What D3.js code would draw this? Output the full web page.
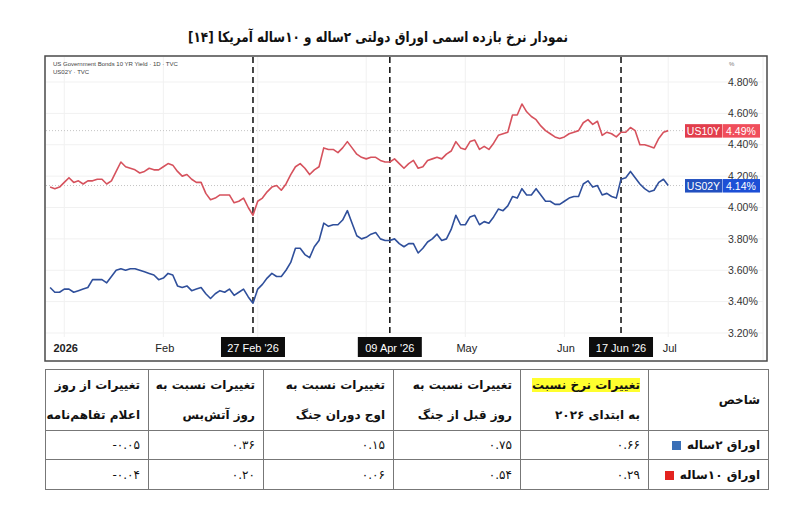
<!DOCTYPE html>
<html>
<head>
<meta charset="utf-8">
<script src="https://cdn.jsdelivr.net/npm/d3@7"></script>
<style>
body { margin: 0; background: #fff; width: 795px; height: 513px; overflow: hidden; position: relative; }
svg { position: absolute; left: 0; top: 0; }
table { position: absolute; left: 45px; top: 369px; width: 723px; border-collapse: collapse; table-layout: fixed;
        direction: rtl; font-family: "DejaVu Sans", sans-serif; font-size: 12px; color: #111; }
td { border: 1px solid #777; text-align: right; padding: 0 8px; white-space: nowrap; overflow: hidden; }
td.head { font-weight: bold; line-height: 30px; }
td.name { font-weight: bold; }
.hl { background: #ffff2e; }
.sq { display: inline-block; width: 9px; height: 9px; margin-right: 6px; vertical-align: middle; }
</style>
</head>
<body>
<script>
// dataset: daily closes, first bar is index -3 (last sessions of 2025)
var firstBar = -3;
var tenYearYield = [
    4.13, 4.12, 4.13, 4.16, 4.19, 4.16, 4.17, 4.15, 4.17, 4.17,
    4.18, 4.18, 4.15, 4.17, 4.23, 4.29, 4.26, 4.25, 4.24, 4.22,
    4.23, 4.25, 4.24, 4.24, 4.26, 4.28, 4.27, 4.23, 4.20, 4.21,
    4.18, 4.16, 4.16, 4.09, 4.05, 4.06, 4.08, 4.08, 4.08, 4.03,
    4.04, 4.06, 4.00, 3.95, 4.04, 4.06, 4.10, 4.13, 4.14, 4.11,
    4.15, 4.21, 4.26, 4.28, 4.25, 4.21, 4.24, 4.26, 4.38, 4.37,
    4.37, 4.35, 4.38, 4.42, 4.38, 4.34, 4.32, 4.31, 4.32, 4.32,
    4.30, 4.29, 4.29, 4.31, 4.28, 4.25, 4.28, 4.30, 4.25, 4.26,
    4.30, 4.31, 4.32, 4.31, 4.34, 4.36, 4.42, 4.38, 4.37, 4.42,
    4.43, 4.37, 4.39, 4.37, 4.41, 4.46, 4.47, 4.48, 4.59, 4.59,
    4.66, 4.61, 4.58, 4.56, 4.52, 4.49, 4.47, 4.45, 4.44, 4.45,
    4.47, 4.48, 4.49, 4.54, 4.56, 4.53, 4.55, 4.46, 4.48, 4.47,
    4.45, 4.48, 4.48, 4.51, 4.49, 4.40, 4.40, 4.39, 4.38, 4.44,
    4.48, 4.49
];
var twoYearYield = [
    3.49, 3.46, 3.46, 3.48, 3.48, 3.46, 3.47, 3.48, 3.49, 3.54,
    3.54, 3.54, 3.52, 3.56, 3.60, 3.61, 3.60, 3.61, 3.61, 3.60,
    3.59, 3.58, 3.57, 3.54, 3.55, 3.58, 3.57, 3.50, 3.49, 3.50,
    3.47, 3.48, 3.49, 3.45, 3.42, 3.45, 3.47, 3.46, 3.48, 3.44,
    3.46, 3.48, 3.43, 3.39, 3.48, 3.51, 3.55, 3.58, 3.56, 3.56,
    3.60, 3.65, 3.74, 3.74, 3.70, 3.68, 3.75, 3.79, 3.90, 3.88,
    3.89, 3.89, 3.92, 3.98, 3.90, 3.82, 3.80, 3.81, 3.83, 3.84,
    3.80, 3.79, 3.79, 3.80, 3.77, 3.75, 3.77, 3.77, 3.71, 3.74,
    3.78, 3.80, 3.83, 3.79, 3.80, 3.86, 3.95, 3.89, 3.89, 3.94,
    3.95, 3.89, 3.91, 3.90, 3.94, 3.99, 3.98, 4.01, 4.07, 4.06,
    4.12, 4.08, 4.08, 4.12, 4.08, 4.04, 4.04, 4.02, 4.02, 4.04,
    4.06, 4.07, 4.07, 4.15, 4.17, 4.13, 4.14, 4.08, 4.09, 4.07,
    4.06, 4.18, 4.19, 4.23, 4.19, 4.15, 4.12, 4.10, 4.11, 4.16,
    4.18, 4.14
];

// time axis: bar index of first session of each month (gridlines),
// labels only where the chart shows them (Mar/Apr sit under the event boxes)
var monthBars = [0, 21, 41, 64, 85, 106, 128];
var tickLabels = ["2026", "Feb", "May", "Jun", "Jul"];
var tickBars = [0, 21, 85, 106, 128];
var eventLabels = ["27 Feb '26", "09 Apr '26", "17 Jun '26"];
var eventBars = [40, 69, 118];

var seriesTags = ["US10Y", "US02Y"];
var legendLines = ["US Government Bonds 10 YR Yield · 1D · TVC", "US02Y · TVC"];

// table
var headerLines = [
    ["شاخص"],
    ["تغییرات نرخ نسبت", "به ابتدای ۲۰۲۶"],
    ["تغییرات نسبت به", "روز قبل از جنگ"],
    ["تغییرات نسبت به", "اوج دوران جنگ"],
    ["تغییرات نسبت به", "روز آتش‌بس"],
    ["تغییرات از روز", "اعلام تفاهم‌نامه"]
];
var rowNames = ["اوراق ۲ساله", "اوراق ۱۰ساله"];
var twoYearChanges = [0.66, 0.75, 0.15, 0.36, -0.05];
var tenYearChanges = [0.29, 0.54, 0.06, 0.20, -0.04];

var red = "#d6525d", blue = "#2f4f9b";

var svg = d3.select("body").append("svg").attr("width", 795).attr("height", 513);

// Title
svg.append("text")
    .attr("x", 378).attr("y", 42)
    .attr("text-anchor", "middle")
    .attr("direction", "rtl")
    .attr("font-family", "DejaVu Sans, sans-serif")
    .attr("font-size", 14.5)
    .attr("font-weight", "bold")
    .attr("fill", "#111")
    .attr("textLength", 380)
    .attr("lengthAdjust", "spacingAndGlyphs")
    .text("نمودار نرخ بازده اسمی اوراق دولتی ۲ساله و ۱۰ساله آمریکا  [۱۴]");

var x = d3.scaleLinear().domain([firstBar, 128]).range([50.1, 668.2]);
var y = d3.scaleLinear().domain([3.2, 4.8]).range([333, 82]);

// grid
svg.append("g").selectAll("line")
    .data(y.ticks(8))
    .enter().append("line")
    .attr("x1", 46).attr("x2", 763)
    .attr("y1", function(d) { return y(d); })
    .attr("y2", function(d) { return y(d); })
    .attr("stroke", "#f1f1f1");
svg.append("g").selectAll("line")
    .data(monthBars)
    .enter().append("line")
    .attr("x1", function(d) { return x(d); })
    .attr("x2", function(d) { return x(d); })
    .attr("y1", 57).attr("y2", 337)
    .attr("stroke", "#f1f1f1");
svg.append("line").attr("x1", 763).attr("x2", 763).attr("y1", 57).attr("y2", 360).attr("stroke", "#eee");

// last value price lines
var lastVals = [tenYearYield[tenYearYield.length - 1], twoYearYield[twoYearYield.length - 1]];
svg.append("g").selectAll("line")
    .data(lastVals)
    .enter().append("line")
    .attr("x1", 46).attr("x2", 685)
    .attr("y1", function(d) { return y(d); })
    .attr("y2", function(d) { return y(d); })
    .attr("stroke", "#c4c4c4")
    .attr("stroke-dasharray", "1,2");

// event dashed lines
svg.append("g").selectAll("line")
    .data(eventBars)
    .enter().append("line")
    .attr("x1", function(d) { return x(d); })
    .attr("x2", function(d) { return x(d); })
    .attr("y1", 57).attr("y2", 338)
    .attr("stroke", "#1a1a1a")
    .attr("stroke-width", 1.6)
    .attr("stroke-dasharray", "6,4");

// lines
var line = d3.line()
    .x(function(d, i) { return x(i + firstBar); })
    .y(function(d) { return y(d); });

svg.append("path").attr("d", line(tenYearYield))
    .attr("fill", "none").attr("stroke", red).attr("stroke-width", 1.6).attr("stroke-linejoin", "round");
svg.append("path").attr("d", line(twoYearYield))
    .attr("fill", "none").attr("stroke", blue).attr("stroke-width", 1.6).attr("stroke-linejoin", "round");

// y-axis (right)
svg.append("g").selectAll("text")
    .data(y.ticks(8))
    .enter().append("text")
    .attr("x", 728)
    .attr("y", function(d) { return y(d); })
    .attr("dy", "0.35em")
    .attr("font-family", "Liberation Sans, Arial, sans-serif")
    .attr("font-size", 10.5)
    .attr("fill", "#333")
    .text(function(d) { return d3.format(".2f")(d) + "%"; });
svg.append("text").attr("x", 729).attr("y", 66)
    .attr("font-family", "Liberation Sans, sans-serif").attr("font-size", 6).attr("fill", "#777").text("%");

// legend text
svg.append("g").selectAll("text")
    .data(legendLines)
    .enter().append("text")
    .attr("x", 53)
    .attr("y", function(d, i) { return 66 + i * 8; })
    .attr("font-family", "Liberation Sans, sans-serif")
    .attr("font-size", 6)
    .attr("fill", "#444")
    .text(function(d) { return d; });

// x-axis labels
svg.append("g").selectAll("text")
    .data(tickLabels)
    .enter().append("text")
    .attr("x", function(d, i) { return x(tickBars[i]) + 1.5; })
    .attr("y", 352)
    .attr("text-anchor", "middle")
    .attr("font-family", "Liberation Sans, Arial, sans-serif")
    .attr("font-size", 11)
    .attr("font-weight", function(d, i) { return i == 0 ? "bold" : "normal"; })
    .attr("fill", "#222")
    .text(function(d) { return d; });

// event markers
var ev = svg.append("g").selectAll("g")
    .data(eventLabels)
    .enter().append("g")
    .attr("transform", function(d, i) { return "translate(" + x(eventBars[i]) + ",0)"; });
ev.append("rect").attr("x", -32).attr("y", 337).attr("width", 64).attr("height", 20).attr("fill", "#0d0d0d");
ev.append("text")
    .attr("y", 351.5)
    .attr("text-anchor", "middle")
    .attr("font-family", "Liberation Sans, Arial, sans-serif")
    .attr("font-size", 11)
    .attr("fill", "#fff")
    .text(function(d) { return d; });

// series tags on price scale
var tagColors = [["#e23e4c", "#f04e5b"], ["#2250c0", "#1c4fd6"]];
var tags = svg.append("g").selectAll("g")
    .data(lastVals)
    .enter().append("g")
    .attr("transform", function(d) { return "translate(685," + (y(d) - 6.5) + ")"; });
tags.append("rect").attr("width", 37).attr("height", 13.5).attr("fill", function(d, i) { return tagColors[i][0]; });
tags.append("rect").attr("x", 37.5).attr("width", 37.5).attr("height", 13.5).attr("fill", function(d, i) { return tagColors[i][1]; });
tags.append("text").attr("x", 18.5).attr("y", 10.6).attr("text-anchor", "middle")
    .attr("font-family", "Liberation Sans, Arial, sans-serif").attr("font-size", 10.5).attr("fill", "#fff")
    .text(function(d, i) { return seriesTags[i]; });
tags.append("text").attr("x", 56).attr("y", 10.6).attr("text-anchor", "middle")
    .attr("font-family", "Liberation Sans, Arial, sans-serif").attr("font-size", 10.5).attr("fill", "#fff")
    .text(function(d) { return d3.format(".2f")(d) + "%"; });

// chart frame
svg.append("rect").attr("x", 45).attr("y", 56).attr("width", 722).attr("height", 305)
    .attr("fill", "none").attr("stroke", "#4a4a4a").attr("stroke-width", 1.5);

// Table
function faNum(v) {
    return v.toFixed(2).replace(/\d/g, function(c) { return "۰۱۲۳۴۵۶۷۸۹"[c]; });
}
var colWidths = [120, 128, 127, 130, 115, 103];
var table = d3.select("body").append("table");
table.append("colgroup").selectAll("col")
    .data(colWidths).enter().append("col")
    .attr("style", function(d) { return "width:" + d + "px"; });

var hr = table.append("tr").style("height", "61px");
hr.selectAll("td")
    .data(headerLines).enter().append("td")
    .attr("class", "head")
    .html(function(d, i) {
        if (i == 1) return "<span class='hl'>" + d[0] + "</span><br>" + d[1];
        return d.join("<br>");
    });

var squareColors = ["#3a6fb6", "#e3231f"];
[twoYearChanges, tenYearChanges].forEach(function(vals, r) {
    var tr = table.append("tr").style("height", r == 0 ? "29px" : "30px");
    tr.append("td").attr("class", "name")
        .html(rowNames[r] + "<span class='sq' style='background:" + squareColors[r] + "'></span>");
    tr.selectAll("td.v")
        .data(vals).enter().append("td")
        .attr("class", "v")
        .html(function(d) { return "<span dir='ltr'>" + faNum(d) + "</span>"; });
});
</script>
</body>
</html>
